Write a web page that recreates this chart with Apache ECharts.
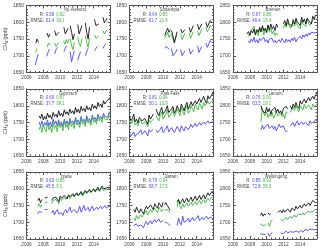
<!DOCTYPE html>
<html><head><meta charset="utf-8">
<script src="https://cdn.jsdelivr.net/npm/echarts@6/dist/echarts.min.js"></script>
<style>html,body{margin:0;padding:0;background:#fff}#c{width:320px;height:252px}</style>
</head><body><div id="c"></div>
<script>
// ---------------- DATA ----------------
// each series = list of segments [startYear, [values every 2 months]]
const STEP = 1/6;
const stations = ['Ny-Alesund','Sodankyla','Bremen','Garmisch','Park Falls','Lamont','Izana','Darwin','Wollongong'];
const rBlue    = ['0.58','0.64','0.67','0.69','0.81','0.76','0.63','0.79','0.85'];
const rGreen   = ['0.92','0.85','0.89','0.87','0.94','0.91','0.85','0.94','0.92'];
const rmseBlue = ['61.4','61.7','46.4','37.7','50.1','63.5','45.5','58.7','72.8'];
const rmseGreen= ['30.1','21.8','15.4','39.1','13.9','19.1','9.1','17.5','26.3'];
const xTicks = [2006, 2016, 2];
const yTicks = [1650, 1850, 50];

const nyBlack = [[2007.1,[1738,1750,1740]],[2008.45,[1768,1755,1765]],[2009.35,[1775,1760,1757,1770]],[2010.45,[1785,1765,1762,1782]],[2011.2,[1790,1770,1748,1765]],[2012.1,[1793,1765,1760,1790]],[2013.0,[1798,1770,1750,1785]],[2014.1,[1808,1790,1785,1795]],[2015.1,[1815,1798,1800,1812]]];
const nyGreen = [[2007.1,[1710,1722]],[2008.45,[1725,1738,1732]],[2009.35,[1738,1728,1732,1740]],[2010.4,[1745,1735,1748,1738,1750]],[2011.2,[1750,1730,1718,1740]],[2012.1,[1755,1735,1728,1750]],[2013.0,[1760,1740,1725,1752]],[2014.1,[1762,1752,1748,1758]],[2015.1,[1775,1765,1768,1778]]];
const nyBlue  = [[2007.05,[1672,1690,1705]],[2008.4,[1698,1710,1720]],[2009.35,[1705,1718,1725]],[2010.45,[1712,1722,1730]],[2011.2,[1712,1682,1700,1715]],[2012.1,[1686,1700,1712]],[2013.0,[1700,1712,1722]],[2014.1,[1715,1722,1728]],[2015.1,[1722,1730,1735]]];

const soBlack = [[2010.2,[1760,1772,1782,1770,1778]],[2011.0,[1775,1760,1738,1755,1772]],[2012.1,[1780,1768,1765,1778]],[2013.1,[1785,1770,1768,1790]],[2014.1,[1795,1778,1782,1795]],[2015.1,[1800,1785,1790,1805,1800]]];
const soGreen = [[2010.2,[1752,1760,1770,1755,1762]],[2011.0,[1765,1750,1742,1755,1762]],[2012.1,[1765,1748,1750,1768]],[2013.1,[1768,1752,1755,1772]],[2014.1,[1775,1760,1765,1780]],[2015.1,[1785,1772,1778,1790,1785]]];
const soBlue  = [[2010.2,[1722,1728,1725,1720]],[2011.0,[1722,1700,1695,1710,1720]],[2012.1,[1718,1700,1705,1715]],[2013.1,[1722,1705,1708,1718]],[2014.1,[1730,1710,1712,1728]],[2015.1,[1738,1725,1730,1745,1740]]];

const brBlack = [[2007.67,[1765,1772,1760,1775,1768,1780,1762,1778,1770,1785,1772,1790,1775,1782,1770,1792,1778,1795,1780,1788,1775,1795,1785]],[2012.0,[1795,1805,1790,1810,1795,1800,1788,1808,1795,1812,1800,1798,1790,1815,1800,1810,1795,1812,1805,1800,1795,1818,1808,1822]]];
const brGreen = [[2007.83,[1758,1765,1775,1770,1788,1765,1772,1760,1780,1770,1785,1762,1778,1768,1790,1770,1782,1765,1775,1760,1768,1762]],[2012.0,[1782,1795,1785,1800,1790,1782,1778,1800,1788,1805,1790,1785,1780,1805,1795,1800,1788,1810,1798,1790,1795,1805]]];
const brBlue  = [[2007.83,[1745,1738,1750,1742,1755,1740,1748,1738,1752,1745,1740,1755,1742,1748,1738,1750,1745,1752,1740,1746,1738,1742,1748,1740,1752,1745,1738,1750,1742,1748,1740,1752,1745,1755,1742,1750,1745,1758,1750,1762,1755,1765,1758,1768,1762,1770,1765,1768,1770]]];

const gaBlack = [[2007.5,[1770,1762,1775,1758,1768,1760,1778,1765,1772,1760,1780,1768,1775,1765,1785,1770,1778,1768,1788,1775,1782,1772,1790,1778,1785,1775,1795,1780,1790,1778,1798,1785,1792,1782,1800,1788,1795,1785,1805,1792,1800,1790,1810,1798,1805,1795,1815,1805,1812,1808,1822,1825]]];
const gaBlue  = [[2007.5,[1752,1740,1755,1738,1750,1742,1758,1740,1752,1738,1760,1745,1755,1740,1758,1742,1752,1738,1760,1745,1755,1742,1762,1748,1755,1745,1765,1750,1758,1745,1768,1752,1760,1748,1770,1755,1762,1750,1772,1758,1765,1755,1775,1762,1768,1760,1778,1768,1772,1765,1780,1782]]];
const gaGreen = [[2007.5,[1728,1740,1720,1745,1730,1722,1748,1728,1740,1720,1750,1732,1742,1722,1752,1735,1745,1725,1755,1735,1745,1728,1758,1738,1748,1732,1760,1742,1750,1735,1762,1745,1752,1738,1765,1748,1755,1742,1768,1750,1758,1745,1770,1755,1762,1750,1772,1760,1765,1758,1775,1778]]];

const pfBlack = [[2006.0,[1768,1755,1762,1775,1752,1760,1748,1765,1770,1755,1750,1762,1758,1745,1772,1760,1768,1775]],[2009.17,[1790,1778,1770,1785,1795,1775,1772,1788,1800,1780,1775,1790,1798,1778,1785,1800,1790,1782,1805,1795,1785,1800,1810,1790,1795,1812,1800,1795,1815,1805,1800,1822,1810,1805,1828,1815,1808,1830,1820,1815,1835,1840]]];
const pfGreen = [[2006.0,[1755,1745,1750,1762,1742,1748,1740,1752,1758,1745,1740,1752,1748,1738,1758,1750,1755,1760]],[2009.17,[1770,1762,1755,1772,1782,1760,1758,1775,1788,1765,1762,1778,1790,1768,1772,1790,1780,1770,1795,1785,1772,1790,1800,1778,1785,1800,1790,1782,1805,1795,1788,1808,1798,1790,1810,1800,1795,1812,1805,1800,1815,1812]]];
const pfBlue  = [[2006.0,[1718,1710,1712,1722,1708,1715,1710,1720,1728,1715,1712,1725,1720,1710,1728,1722,1725,1730]],[2009.17,[1728,1720,1715,1730,1738,1720,1718,1732,1740,1722,1720,1735,1738,1720,1725,1738,1730,1722,1740,1732,1725,1738,1742,1728,1732,1745,1735,1730,1748,1738,1735,1750,1742,1738,1752,1745,1740,1755,1748,1745,1752,1750]]];

const laBlack = [[2009.33,[1800,1785,1790,1778,1795,1782,1792,1775,1788,1785,1795,1780,1790,1778,1785,1775,1792,1788,1798,1790]],[2012.83,[1800,1790,1805,1795,1810,1798,1792,1815,1805,1800,1820,1808,1812,1825,1815,1810,1828,1820,1832,1840]]];
const laGreen = [[2009.33,[1752,1792,1778,1770,1782,1765,1775,1768,1780,1762,1772,1785,1770,1765,1778,1768,1775,1762,1782,1778]],[2012.83,[1780,1788,1795,1785,1800,1790,1782,1800,1795,1788,1805,1792,1790,1802,1795,1788,1805,1798,1800,1805]]];
const laBlue  = [[2009.33,[1728,1742,1730,1738,1735,1745,1732,1728,1740,1730,1738,1725,1735,1745,1735,1730,1740,1728,1722,1725]],[2012.83,[1740,1745,1750,1738,1748,1755,1742,1740,1752,1745,1742,1750,1745,1740,1755,1748,1745,1752,1758,1755]]];

const izBlack = [[2007.33,[1765,1772,1758,1768]],[2008.17,[1772,1770,1775]],[2009.0,[1765,1772,1768,1775,1770,1762,1778,1772,1768,1780,1775,1770,1782,1776,1772,1785,1778,1775,1788,1780,1785,1792,1782,1780,1795,1788,1785,1798,1790,1788,1800,1792,1790,1805,1795,1792,1808,1800,1795,1802,1798,1805,1800]]];
const izGreen = [[2007.33,[1748,1755,1745,1752]],[2008.17,[1758,1755,1760]],[2009.0,[1755,1765,1760,1768,1762,1755,1772,1765,1760,1775,1768,1765,1778,1770,1768,1782,1775,1770,1785,1778,1780,1788,1778,1775,1792,1785,1782,1795,1788,1785,1798,1790,1788,1800,1792,1790,1802,1795,1790,1798,1795,1800,1798]]];
const izBlue  = [[2007.33,[1725,1732,1735,1730]],[2008.17,[1738,1735,1738]],[2009.0,[1728,1735,1722,1732,1738,1725,1730,1728,1720,1732,1738,1728,1735,1745,1730,1728,1738,1742,1728,1735,1748,1730,1738,1750,1735,1740,1745,1732,1740,1748,1735,1740,1745,1738,1742,1748,1740,1745,1750,1742,1745,1748,1745]]];

const daBlack = [[2006.5,[1738,1730,1745,1735,1728,1740,1732,1725,1738,1748,1740,1735,1752,1745,1738,1755,1748,1742,1758,1752,1745,1760]],[2010.17,[1752,1758,1750,1745,1735]],[2011.67,[1760,1768,1755,1762,1770,1758,1765,1772,1760,1768,1775,1762,1770,1778,1765,1772,1780,1768,1775,1782,1770,1778,1788,1780,1785,1792,1785]]];
const daGreen = [[2006.5,[1712,1705,1720,1710,1708,1722,1715,1710,1728,1735,1722,1720,1738,1730,1725,1742,1735,1728,1745,1738,1732,1740]],[2010.17,[1735,1740,1738,1732,1728]],[2011.67,[1745,1768,1748,1740,1755,1745,1742,1758,1748,1745,1760,1750,1748,1762,1752,1750,1765,1755,1752,1768,1758,1755,1772,1765,1762,1775,1772]]];
const daBlue  = [[2006.5,[1690,1685,1695,1688,1685,1692,1688,1684,1695,1702,1692,1690,1705,1695,1692,1708,1700,1695,1710,1700,1696,1705]],[2010.17,[1700,1705,1698,1695,1690]],[2011.67,[1690,1712,1698,1692,1718,1700,1695,1705,1712,1700,1698,1715,1705,1700,1712,1720,1705,1702,1715,1708,1705,1718,1710,1708,1715,1712,1710]]];

const woBlack = [[2009.25,[1720,1728,1718,1725,1722]],[2010.17,[1728,1722,1726]],[2011.33,[1730,1725,1735,1728,1738,1730,1726,1740,1735,1730,1742,1738,1735,1748,1740,1738,1750,1742,1745,1755,1748,1745,1758,1750,1752,1765,1768,1758]]];
const woGreen = [[2009.25,[1695,1692,1690,1694,1692]],[2010.17,[1698,1688,1702,1708]],[2011.67,[1708,1712,1705,1710,1715,1708,1712,1718,1712,1715,1722,1715,1718,1725,1720,1722,1728,1722,1725,1732,1728,1730,1735,1732,1735,1738]]];
const woBlue  = [[2009.25,[1665,1668,1664,1666,1664]],[2010.17,[1668,1658,1664,1670]],[2011.67,[1668,1672,1666,1670,1674,1668,1665,1672,1676,1670,1668,1674,1678,1670,1672,1676,1670,1674,1680,1674,1676,1680,1675,1678,1682,1678]]];

const panelBlack = [nyBlack, soBlack, brBlack, gaBlack, pfBlack, laBlack, izBlack, daBlack, woBlack];
const panelGreen = [nyGreen, soGreen, brGreen, gaGreen, pfGreen, laGreen, izGreen, daGreen, woGreen];
const panelBlue  = [nyBlue, soBlue, brBlue, gaBlue, pfBlue, laBlue, izBlue, daBlue, woBlue];

// ---------------- LAYOUT ----------------
const colLeft = [26.5, 129.5, 233];
const rowTop = [5.5, 89, 172];
const W = 84, H = 67;
const nameCenter = [48.5, 40, 40, 41.5, 40.5, 42.5, 40, 41.5, 43];
const BLUE = '#4646ff', GREEN = '#3cb43c', BLACK = '#111';
const TXT = '#444', AX = '#555';
const FONT = "'Liberation Sans',Arial,sans-serif";

function toData(segs) {
  const out = [];
  segs.forEach((s, k) => {
    if (k > 0) out.push([s[0] - 0.05, '-']);
    s[1].forEach((v, j) => out.push([s[0] + j * STEP, v]));
  });
  return out;
}

const grid = [], xAxis = [], yAxis = [], series = [], graphic = [];
for (let i = 0; i < 9; i++) {
  const c = i % 3, r = Math.floor(i / 3);
  const L = colLeft[c], T = rowTop[r];
  grid.push({left: L, top: T, width: W, height: H, containLabel: false});
  const xb = {
    type: 'value', gridIndex: i, min: xTicks[0], max: xTicks[1], interval: xTicks[2],
    axisLine: {show: true, onZero: false, lineStyle: {color: AX, width: 1}},
    axisTick: {show: true, inside: true, length: 3, lineStyle: {color: AX}},
    minorTick: {show: true, splitNumber: 4, length: 1.5, lineStyle: {color: AX}},
    splitLine: {show: false},
    axisLabel: {show: true, fontSize: 4.7, color: TXT, margin: 3, fontFamily: FONT, showMaxLabel: false,
      formatter: v => String(v)}
  };
  xAxis.push(Object.assign({}, xb, {position: 'bottom'}));
  xAxis.push(Object.assign({}, xb, {position: 'top', axisLabel: {show: false}}));
  const yb = {
    type: 'value', gridIndex: i, min: yTicks[0], max: yTicks[1], interval: yTicks[2],
    axisLine: {show: true, onZero: false, lineStyle: {color: AX, width: 1}},
    axisTick: {show: true, inside: true, length: 3, lineStyle: {color: AX}},
    minorTick: {show: true, splitNumber: 5, length: 1.5, lineStyle: {color: AX}},
    splitLine: {show: false},
    axisLabel: {show: true, fontSize: 5, color: TXT, margin: 2.5, fontFamily: FONT, formatter: v => String(v)}
  };
  const yl = Object.assign({}, yb, {position: 'left'});
  if (c === 0) {
    Object.assign(yl, {
      name: '{a|CH}{s|4}{a| (ppb)}', nameLocation: 'middle', nameGap: 16,
      nameTextStyle: {rich: {a: {fontSize: 5.2, color: TXT, fontFamily: FONT},
                             s: {fontSize: 3.8, color: TXT, fontFamily: FONT, verticalAlign: 'bottom', padding: [3, 0, 0, 0]}}}
    });
  }
  yAxis.push(yl);
  yAxis.push(Object.assign({}, yb, {position: 'right', axisLabel: {show: false}}));

  const mk = (segs, col) => ({
    type: 'line', xAxisIndex: 2 * i, yAxisIndex: 2 * i, data: toData(segs),
    showSymbol: false, symbol: 'none', connectNulls: false, silent: true, animation: false,
    lineStyle: {color: col, width: 0.9}
  });
  series.push(mk(panelBlue[i], BLUE), mk(panelGreen[i], GREEN), mk(panelBlack[i], BLACK));

  const ts = (text, x, y, color, align) => ({
    type: 'text', x: x, y: y, scaleX: 0.8, silent: true,
    style: {text: text, fill: color, font: '5.3px ' + FONT, textAlign: align, textVerticalAlign: 'middle'}
  });
  graphic.push(ts(stations[i], L + nameCenter[i], T + 4.2, TXT, 'center'));
  graphic.push(ts('R:', L + 17.5, T + 9, TXT, 'right'));
  graphic.push(ts(rBlue[i], L + 19.3, T + 9, BLUE, 'left'));
  graphic.push(ts(rGreen[i], L + 29.8, T + 9, GREEN, 'left'));
  graphic.push(ts('RMSE:', L + 17.5, T + 14.8, TXT, 'right'));
  graphic.push(ts(rmseBlue[i], L + 19.3, T + 14.8, BLUE, 'left'));
  graphic.push(ts(rmseGreen[i], L + 29.8, T + 14.8, GREEN, 'left'));
}

const chart = echarts.init(document.getElementById('c'), null, {renderer: 'canvas'});
chart.setOption({animation: false, backgroundColor: '#fff', grid, xAxis, yAxis, series, graphic});
</script></body></html>
